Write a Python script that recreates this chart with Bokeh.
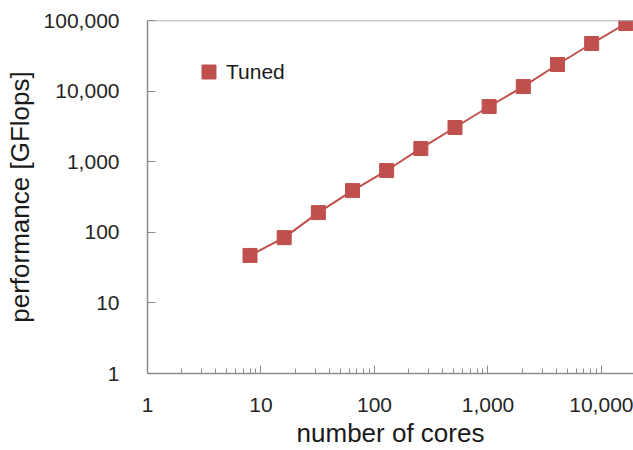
from bokeh.plotting import figure
from bokeh.models import LogTicker, NumeralTickFormatter, Span, Legend, LegendItem
from bokeh.embed import file_html
from bokeh.resources import INLINE

cores = [8, 16, 32, 64, 128, 256, 512, 1024, 2048, 4096, 8192, 16384]
gflops = [47, 84, 190, 390, 750, 1540, 3050, 6050, 11600, 23800, 47200, 90700]
series_name = "Tuned"
x_title = "number of cores"
y_title = "performance [GFlops]"

RED = "#C0504D"
FONT = "Liberation Sans"

p = figure(width=633, height=450, x_axis_type="log", y_axis_type="log",
           x_range=(1, 19140), y_range=(1, 100000),
           output_backend="svg", toolbar_location=None,
           min_border_left=147, min_border_right=0, min_border_top=20, min_border_bottom=77)
p.outline_line_color = None
p.grid.grid_line_color = None
p.background_fill_color = "white"
p.border_fill_color = "white"

r_line = p.line(cores, gflops, line_color=RED, line_width=2)
r_pts = p.scatter(cores, gflops, marker="square", size=14, fill_color=RED, line_color=RED)

p.add_layout(Span(location=100000, dimension="width", line_color="#999999", line_width=1.5))

AX = "#8c8c8c"
for ax in (p.xaxis[0], p.yaxis[0]):
    ax.axis_line_color = AX
    ax.axis_line_width = 1.5
    ax.major_tick_line_color = AX
    ax.minor_tick_line_color = AX
    ax.major_tick_in = 8
    ax.major_tick_out = 0
    ax.minor_tick_in = 5
    ax.minor_tick_out = 0
    ax.major_label_text_font = FONT
    ax.major_label_text_font_size = "21px"
    ax.major_label_text_color = "#262626"
    ax.axis_label_text_font = FONT
    ax.axis_label_text_font_size = "26px"
    ax.axis_label_text_font_style = "normal"
    ax.axis_label_text_color = "#1a1a1a"
    ax.formatter = NumeralTickFormatter(format="0,0")

p.xaxis.ticker = LogTicker(desired_num_ticks=6, num_minor_ticks=10)
p.yaxis.ticker = LogTicker(desired_num_ticks=6, num_minor_ticks=0)
p.yaxis.minor_tick_line_color = None
p.xaxis.axis_label = x_title
p.yaxis.axis_label = y_title
p.xaxis.major_label_standoff = 24
p.yaxis.major_label_standoff = 28
p.xaxis.axis_label_standoff = 3
p.yaxis.axis_label_standoff = 6

legend = Legend(items=[LegendItem(label=series_name, renderers=[r_pts])],
                location=(44, 284), padding=0, spacing=0, margin=0,
                glyph_width=35, glyph_height=35, label_standoff=0,
                label_text_font=FONT, label_text_font_size="21px",
                label_text_color="#1a1a1a", border_line_color=None,
                background_fill_alpha=0)
p.add_layout(legend)

open("out.html", "w").write(file_html(p, INLINE))
